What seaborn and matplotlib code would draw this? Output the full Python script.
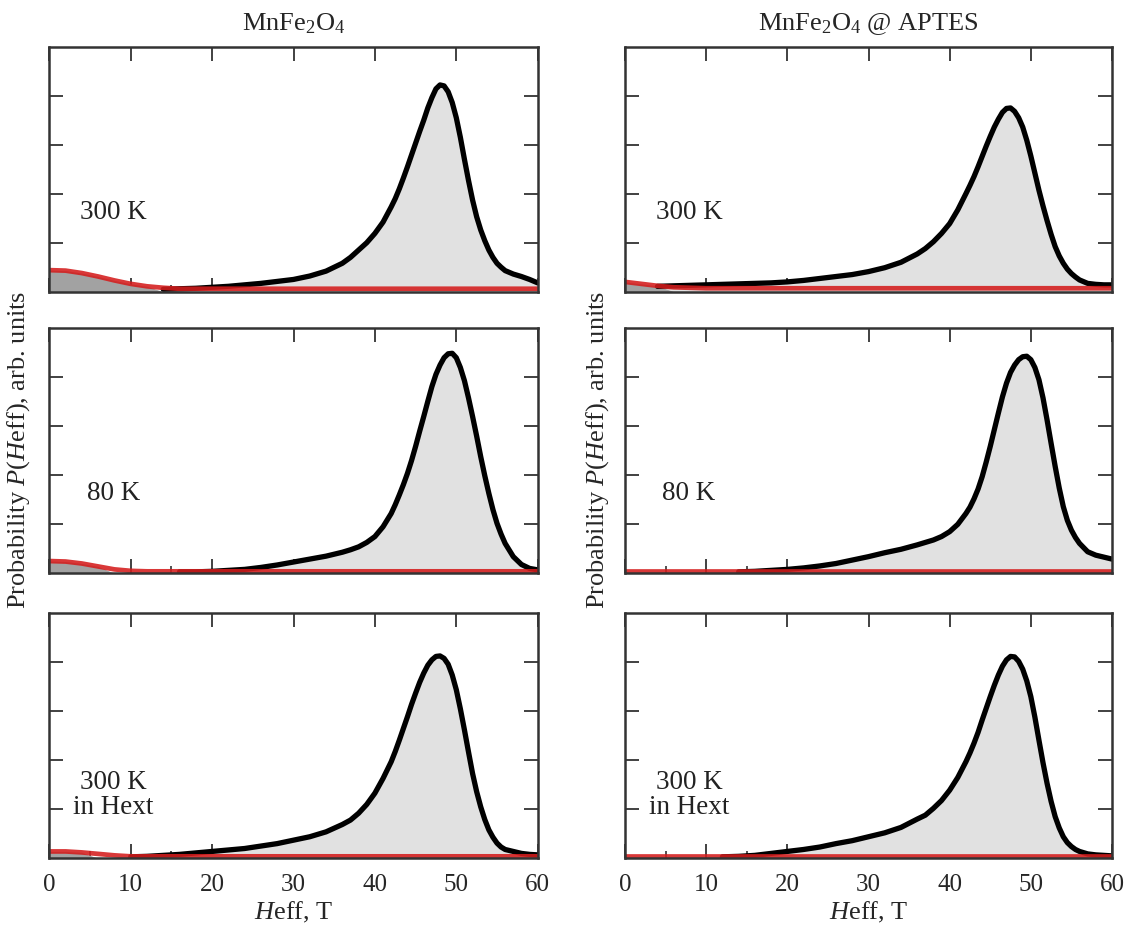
import numpy as np
import pandas as pd
import matplotlib
matplotlib.use("Agg")
import matplotlib.pyplot as plt
from matplotlib.ticker import MultipleLocator
import seaborn as sns

# ---------------- data ----------------
# black (total) distribution grid
H = [0, 2, 4, 6, 8, 10, 12, 14, 16, 18, 20, 22, 24, 26, 28, 30, 32, 34,
     36, 37, 38, 39, 40, 41,
     42, 42.5, 43, 43.5, 44, 44.5, 45, 45.5, 46, 46.5, 47, 47.5, 48, 48.5, 49, 49.5,
     50, 50.5, 51, 51.5, 52, 52.5, 53, 53.5, 54, 54.5, 55, 55.5, 56,
     57, 58, 59, 60]
# red (low-field component) grid
H_red = [0, 2, 4, 6, 8, 10, 12, 14, 16, 18, 20, 60]

n = None
# MnFe2O4, 300 K
black_A300 = [n, n, n, n, n, n, n, 0.05, 0.06, 0.07, 0.09, 0.11, 0.14, 0.17, 0.21, 0.25, 0.32, 0.42,
              0.58, 0.70, 0.85, 1.00, 1.19, 1.42,
              1.73, 1.90, 2.10, 2.32, 2.55, 2.79, 3.03, 3.27, 3.50, 3.75, 3.96, 4.14, 4.22, 4.20, 4.08, 3.86,
              3.55, 3.15, 2.70, 2.27, 1.87, 1.53, 1.26, 1.04, 0.85, 0.70, 0.58, 0.50, 0.43,
              0.36, 0.31, 0.25, 0.18]
red_A300 = [0.44, 0.43, 0.38, 0.31, 0.23, 0.16, 0.11, 0.08, 0.06, 0.06, 0.06, 0.06]

# MnFe2O4 @ APTES, 300 K
black_B300 = [n, n, 0.11, 0.12, 0.13, 0.14, 0.15, 0.16, 0.17, 0.18, 0.20, 0.23, 0.27, 0.31, 0.35, 0.41, 0.49, 0.60,
              0.77, 0.88, 1.02, 1.19, 1.39, 1.67,
              2.00, 2.17, 2.35, 2.55, 2.76, 2.97, 3.17, 3.36, 3.52, 3.66, 3.74, 3.75, 3.68, 3.55, 3.36, 3.09,
              2.77, 2.42, 2.07, 1.75, 1.45, 1.17, 0.92, 0.73, 0.58, 0.46, 0.37, 0.30, 0.24,
              0.17, 0.15, 0.14, 0.14]
red_B300 = [0.20, 0.16, 0.12, 0.09, 0.08, 0.07, 0.07, 0.07, 0.07, 0.07, 0.07, 0.07]

# MnFe2O4, 80 K
black_A80 = [n, n, n, n, n, n, n, n, 0.03, 0.03, 0.04, 0.06, 0.08, 0.12, 0.17, 0.23, 0.29, 0.35,
             0.43, 0.48, 0.54, 0.63, 0.75, 0.95,
             1.22, 1.40, 1.60, 1.81, 2.04, 2.30, 2.59, 2.90, 3.20, 3.51, 3.81, 4.06, 4.25, 4.40, 4.48, 4.49,
             4.40, 4.20, 3.93, 3.58, 3.20, 2.80, 2.38, 1.99, 1.63, 1.30, 1.02, 0.80, 0.61,
             0.34, 0.18, 0.10, 0.07]
red_A80 = [0.25, 0.24, 0.20, 0.14, 0.08, 0.05, 0.04, 0.04, 0.04, 0.04, 0.04, 0.04]

# MnFe2O4 @ APTES, 80 K
black_B80 = [n, n, n, n, n, n, n, 0.03, 0.04, 0.06, 0.08, 0.11, 0.15, 0.20, 0.27, 0.34, 0.42, 0.49,
             0.58, 0.63, 0.68, 0.75, 0.85, 1.00,
             1.22, 1.35, 1.52, 1.72, 1.97, 2.27, 2.59, 2.93, 3.27, 3.60, 3.88, 4.10, 4.25, 4.36, 4.42, 4.43,
             4.36, 4.20, 3.95, 3.58, 3.13, 2.65, 2.18, 1.74, 1.36, 1.08, 0.88, 0.73, 0.61,
             0.44, 0.37, 0.33, 0.29]
red_B80 = [0.04, 0.04, 0.04, 0.04, 0.04, 0.04, 0.04, 0.04, 0.04, 0.04, 0.04, 0.04]

# MnFe2O4, 300 K in Hext
black_Ahx = [n, n, n, n, n, 0.03, 0.04, 0.06, 0.08, 0.11, 0.14, 0.17, 0.20, 0.25, 0.30, 0.37, 0.44, 0.54,
             0.69, 0.78, 0.92, 1.10, 1.33, 1.63,
             1.97, 2.18, 2.41, 2.65, 2.89, 3.14, 3.37, 3.59, 3.78, 3.94, 4.05, 4.12, 4.13, 4.08, 3.96, 3.74,
             3.44, 3.05, 2.62, 2.17, 1.73, 1.36, 1.05, 0.79, 0.58, 0.43, 0.31, 0.23, 0.18,
             0.14, 0.10, 0.08, 0.07]
red_Ahx = [0.14, 0.14, 0.12, 0.09, 0.06, 0.04, 0.04, 0.04, 0.04, 0.04, 0.04, 0.04]

# MnFe2O4 @ APTES, 300 K in Hext
black_Bhx = [n, n, n, n, n, n, 0.03, 0.04, 0.06, 0.10, 0.14, 0.18, 0.23, 0.30, 0.36, 0.44, 0.52, 0.63,
             0.80, 0.88, 1.02, 1.18, 1.39, 1.65,
             1.97, 2.15, 2.35, 2.57, 2.82, 3.06, 3.30, 3.53, 3.74, 3.92, 4.05, 4.12, 4.11, 4.02, 3.86, 3.62,
             3.30, 2.88, 2.41, 1.95, 1.53, 1.16, 0.85, 0.62, 0.44, 0.32, 0.24, 0.18, 0.14,
             0.09, 0.07, 0.06, 0.05]
red_Bhx = [0.04, 0.04, 0.04, 0.04, 0.04, 0.04, 0.04, 0.04, 0.04, 0.04, 0.04, 0.04]

col_titles = ["MnFe$_2$O$_4$", "MnFe$_2$O$_4$ @ APTES"]
row_labels = ["300 K", "80 K", "300 K\nin Hext"]
x_ticks = [0, 10, 20, 30, 40, 50, 60]
x_label = "$H$eff, T"
y_label = "Probability $P$($H$eff), arb. units"

panels = [
    [(black_A300, red_A300), (black_B300, red_B300)],
    [(black_A80, red_A80), (black_B80, red_B80)],
    [(black_Ahx, red_Ahx), (black_Bhx, red_Bhx)],
]

# ---------------- style ----------------
sns.set_theme(style="ticks")
plt.rcParams["font.family"] = ["Liberation Serif", "DejaVu Serif"]
plt.rcParams["mathtext.fontset"] = "custom"
plt.rcParams["mathtext.rm"] = "Liberation Serif"
plt.rcParams["mathtext.it"] = "Liberation Serif:italic"
plt.rcParams["mathtext.bf"] = "Liberation Serif:bold"

W, Hh = 1129, 925
fig = plt.figure(figsize=(W / 100, Hh / 100), dpi=100)

col_left = [49.3, 625]
col_width = [488.4, 487]
row_top = [46.7, 328.3, 613.3]
row_h = 245

spine_c = "#333333"
for r in range(3):
    for c in range(2):
        ax = fig.add_axes([col_left[c] / W, (Hh - row_top[r] - row_h) / Hh,
                           col_width[c] / W, row_h / Hh])
        blk, red = panels[r][c]
        blk = np.array([np.nan if v is None else v for v in blk], dtype=float)
        red = np.asarray(red, dtype=float)
        dfb = pd.DataFrame({"H": H, "P": blk})
        dfr = pd.DataFrame({"H": H_red, "P": red})
        ax.fill_between(dfb["H"], 0, dfb["P"], color="#e1e1e1", lw=0, zorder=1)
        ax.fill_between(dfr["H"], 0, dfr["P"], where=dfr["P"] > 0.1, interpolate=True,
                        color="#a2a2a2", lw=0, zorder=1.5)
        sns.lineplot(data=dfb.dropna(), x="H", y="P", ax=ax, color="black", linewidth=3.8,
                     zorder=3, solid_joinstyle="round", solid_capstyle="round")
        sns.lineplot(data=dfr, x="H", y="P", ax=ax, color="#d41c1c", linewidth=3.4,
                     alpha=0.88, zorder=4, solid_joinstyle="round")
        ax.set_xlim(0, 60)
        ax.set_ylim(0, 5.0)
        ax.set_xticks(x_ticks)
        ax.xaxis.set_minor_locator(MultipleLocator(5))
        ax.set_yticks([1, 2, 3, 4])
        ax.set_yticklabels([])
        ax.tick_params(which="major", direction="in", length=10, width=1.3, color=spine_c,
                       top=True, bottom=True, left=True, right=True, labelsize=18, pad=11)
        ax.tick_params(which="minor", direction="in", length=5, width=1.2, color=spine_c,
                       top=False, bottom=True, left=False, right=False)
        for s in ax.spines.values():
            s.set_color(spine_c)
            s.set_linewidth(1.8)
            s.set_zorder(6)
        ax.set_ylabel("")
        if r == 2:
            ax.set_xticklabels([str(v) for v in x_ticks])
            ax.set_xlabel(x_label, fontsize=19, labelpad=3)
        else:
            ax.set_xticklabels([])
            ax.set_xlabel("")
        ax.text(7.9, 1.62 if r < 2 else 1.3, row_labels[r], fontsize=19.5,
                ha="center", va="center", linespacing=1.0, color="#222222")

for c in range(2):
    fig.text((col_left[c] + col_width[c] / 2) / W, 1 - 24 / Hh, col_titles[c],
             ha="center", va="center", fontsize=19)
fig.text(19 / W, 1 - 450 / Hh, y_label, rotation=90, ha="center", va="center", fontsize=19)
fig.text(598 / W, 1 - 450 / Hh, y_label, rotation=90, ha="center", va="center", fontsize=19)

fig.savefig("out.png", dpi=100, facecolor="white")
